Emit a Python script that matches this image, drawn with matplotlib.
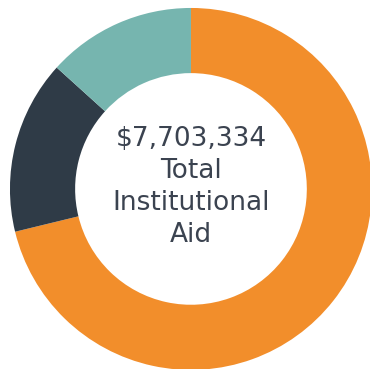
import matplotlib
matplotlib.use('Agg')
import matplotlib.pyplot as plt

# aid shares (clockwise from top)
labels = ['Grants', 'Scholarships', 'Other']
shares = [71.2, 15.5, 13.3]
colors = ['#F28E2B', '#2F3B47', '#76B5AF']
center_text = '$7,703,334\nTotal\nInstitutional\nAid'

fig = plt.figure(figsize=(3.70, 3.69), dpi=100)
ax = fig.add_axes([0, 0, 1, 1])
ax.pie(shares, colors=colors, startangle=90, counterclock=False,
       radius=1, wedgeprops=dict(width=0.36, linewidth=0))
ax.set_aspect('auto')
ax.set_xlim(-1.055, 0.989)
ax.set_ylim(-0.995, 1.044)
ax.axis('off')
ax.text(0, 0.01, center_text, ha='center', va='center', fontsize=19,
        color='#3B4350', linespacing=1.3, family='DejaVu Sans')
fig.savefig('out.png', dpi=100)
